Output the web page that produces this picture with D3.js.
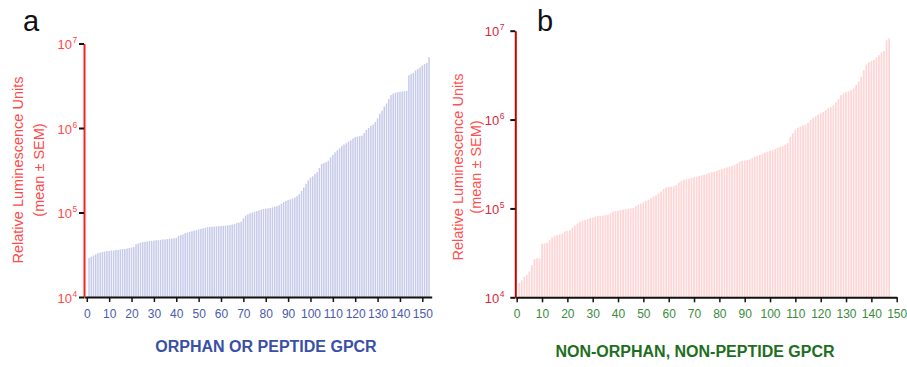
<!DOCTYPE html>
<html>
<head>
<meta charset="utf-8">
<script src="https://cdn.jsdelivr.net/npm/d3@7"></script>
<style>
body{margin:0;background:#fff;}
text{font-family:"Liberation Sans",Arial,sans-serif;}
</style>
</head>
<body>
<svg id="chart" width="907" height="367"></svg>
<script>
// values in thousands of RLU, sorted, one per receptor
var orphanValues=[29,30,31,32,33,33.5,34,34.5,35,35,
  35.5,35.5,36,36,36.5,37,37,37.5,38,38.5,
  39,42,43,44,44.5,45,45.5,46,46,46.5,
  47,47,47.5,48,48,48.5,49,49,49.5,50,
  53,54,55,57,58,59,60,61,62,63,
  64,65,66,67,67.5,68,68,68.5,69,69,
  69.5,70,70.5,71,72,73,75,76,78,85,
  92,95,98,100,102,104,106,108,110,111,
  112,113,115,117,119,122,127,133,137,140,
  143,146,150,156,165,180,198,218,240,258,
  268,285,300,335,375,385,395,410,450,480,
  515,545,575,610,635,660,690,715,750,780,
  795,800,810,870,950,1000,1060,1100,1180,1300,
  1480,1600,1800,1950,2200,2450,2550,2620,2650,2680,
  2700,2720,2740,4200,4350,4500,4800,5000,5200,5500,
  5700,5900,6900];

var nonOrphanValues=[14.5,15.5,17,18,19.5,23,27,27.5,27.5,40,
  40.5,41,44,47.5,49,50,51,52,55,56,
  57,61,64,68,71,73,74,75.5,78,79,
  81,82,82.5,83,84,85,88,92,93,94,
  96,97,98,99,100,101,106,110,113,117,
  121,125,130,136,141,148,155,165,172,175,
  176,178,183,195,205,210,213,215,220,224,
  228,232,236,240,245,250,255,260,266,272,
  278,284,290,296,302,310,320,335,342,346,
  350,356,370,382,392,400,412,425,436,446,
  452,465,480,495,505,520,545,640,700,760,
  810,835,860,880,920,990,1040,1090,1140,1180,
  1220,1280,1340,1380,1450,1570,1700,1890,1960,2030,
  2080,2140,2230,2450,2660,3030,3600,4170,4400,4550,
  4700,5000,5300,5700,5900,7800,8200];

var xTicks=[0,10,20,30,40,50,60,70,80,90,100,110,120,130,140,150];
var yTicks=[1e4,1e5,1e6,1e7];
var yExp=["4","5","6","7"];
var yTitle=["Relative Luminescence Units","(mean \u00b1 SEM)"];

var svg=d3.select("#chart");

var drawPanel=function(p)
{
    var g=svg.append("g");

    var xScale=d3.scaleLinear()
        .domain(p.xDomain)
        .range(p.xRange);
    var yScale=d3.scaleLog()
        .domain([1e4,1e7])
        .range([p.yBottom,p.yTop]);
    var w=xScale(0.68)-xScale(0);

    g.selectAll("rect")
      .data(p.values)
      .enter()
      .append("rect")
      .attr("x",function(d,i){return xScale(i+1)-w/2;})
      .attr("y",function(d){return yScale(d*1000);})
      .attr("width",w)
      .attr("height",function(d){return p.yBottom-yScale(d*1000);})
      .attr("fill",p.barColor);

    // x axis
    var xAxis=g.append("g")
      .attr("transform","translate(0,"+p.yBottom+")")
      .call(d3.axisBottom(xScale).tickValues(xTicks).tickSize(5).tickSizeOuter(0));
    xAxis.select(".domain").attr("stroke","#111").attr("stroke-width",2);
    xAxis.selectAll(".tick line").attr("stroke","#111").attr("stroke-width",1.5);
    xAxis.selectAll(".tick text")
      .attr("fill",p.xTickColor)
      .attr("font-size",12)
      .attr("dy","1.05em");

    // y axis
    var yAxis=g.append("g")
      .attr("transform","translate("+p.yAxisX+",0)")
      .call(d3.axisLeft(yScale).tickValues(yTicks).tickSize(5).tickSizeOuter(0).tickFormat(""));
    yAxis.select(".domain").attr("stroke",p.yAxisColor).attr("stroke-width",2);
    yAxis.selectAll(".tick line").attr("stroke","#111").attr("stroke-width",2);
    yAxis.selectAll(".tick text").remove();

    g.selectAll(".ylab")
      .data(yTicks)
      .enter()
      .append("text")
      .attr("class","ylab")
      .attr("x",p.yAxisX-p.labGap)
      .attr("y",function(d){return yScale(d)+5.5;})
      .attr("text-anchor","end")
      .attr("fill",p.yTickColor)
      .attr("font-size",13)
      .text("10");
    g.selectAll(".yexp")
      .data(yTicks)
      .enter()
      .append("text")
      .attr("class","yexp")
      .attr("x",p.yAxisX-p.labGap+0.5)
      .attr("y",function(d){return yScale(d)-0.5;})
      .attr("fill",p.yTickColor)
      .attr("font-size",8.5)
      .text(function(d,i){return yExp[i];});

    g.selectAll(".ytitle")
      .data(yTitle)
      .enter()
      .append("text")
      .attr("class","ytitle")
      .attr("transform",function(d,i){return "translate("+p.titleX[i]+","+p.titleY+") rotate(-90)";})
      .attr("text-anchor","middle")
      .attr("fill",p.yTitleColor)
      .attr("font-size",14.5)
      .text(function(d){return d;});

    g.append("text")
      .attr("x",p.labelX)
      .attr("y",p.labelY)
      .attr("text-anchor","middle")
      .attr("fill",p.xTitleColor)
      .attr("font-size",16)
      .attr("font-weight","bold")
      .text(p.xTitle);

    g.append("text")
      .attr("x",p.letterX)
      .attr("y",31)
      .attr("font-size",29)
      .attr("fill","#111")
      .text(p.letter);
};

drawPanel({
    values:orphanValues,
    xDomain:[-1.25,154.2],xRange:[84,431.7],
    yTop:43.5,yBottom:297,yAxisX:84,labGap:12,
    barColor:"#c7cbe9",
    xTickColor:"#4a5aac",yTickColor:"#ff4a4a",yAxisColor:"#ff2020",yTitleColor:"#ff4a4a",
    xTitle:"ORPHAN OR PEPTIDE GPCR",xTitleColor:"#3a4fa6",labelX:266,labelY:352,
    titleX:[23,43.5],titleY:170,
    letter:"a",letterX:23
});

drawPanel({
    values:nonOrphanValues,
    xDomain:[-0.55,150],xRange:[515.3,896.7],
    yTop:30.7,yBottom:297.3,yAxisX:515.3,labGap:16,
    barColor:"#ffd5d5",
    xTickColor:"#3b8b3b",yTickColor:"#d8283a",yAxisColor:"#c80000",yTitleColor:"#ff5050",
    xTitle:"NON-ORPHAN, NON-PEPTIDE GPCR",xTitleColor:"#1e6e1e",labelX:695,labelY:357,
    titleX:[463,481],titleY:167,
    letter:"b",letterX:537
});
</script>
</body>
</html>
